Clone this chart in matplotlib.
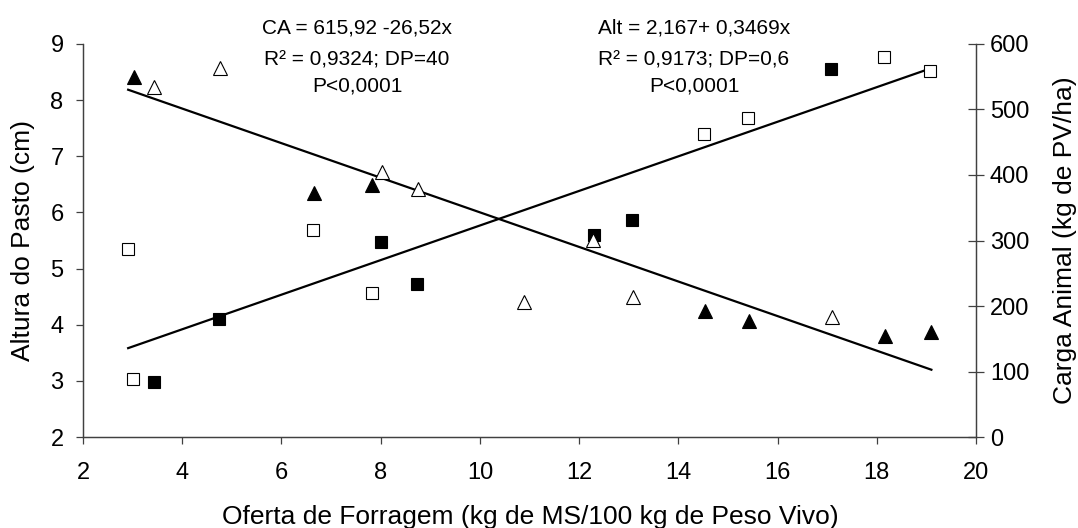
import numpy as np
import matplotlib.pyplot as plt

plt.rcParams['font.family'] = ['Liberation Sans', 'DejaVu Sans']

# Altura do pasto (cm) - quadrados, eixo esquerdo
alt_x_cheio = [3.43, 4.75, 8.0, 8.74, 12.29, 13.06, 17.07]
alt_y_cheio = [2.98, 4.10, 5.48, 4.72, 5.60, 5.86, 8.55]
alt_x_vazio = [2.91, 3.01, 6.64, 7.82, 14.52, 15.41, 18.15, 19.08]
alt_y_vazio = [5.35, 3.03, 5.68, 4.56, 7.39, 7.68, 8.76, 8.52]

# Carga animal (kg de PV/ha) - triangulos, eixo direito
ca_x_cheio = [3.03, 6.66, 7.83, 14.54, 15.43, 18.17, 19.10]
ca_y_cheio = [549, 372, 385, 193, 177, 154, 161]
ca_x_vazio = [3.44, 4.76, 8.02, 8.75, 10.88, 12.28, 13.08, 17.09]
ca_y_vazio = [534, 564, 405, 378, 206, 301, 213, 183]

# retas como aparecem no grafico
alt_reta = (2.687, 0.308)
ca_reta = (607.0, -26.4)
reta_x = [2.91, 19.1]

eq_ca = ["CA = 615,92 -26,52x", "R² = 0,9324; DP=40", "P<0,0001"]
eq_alt = ["Alt = 2,167+ 0,3469x", "R² = 0,9173; DP=0,6", "P<0,0001"]

fig = plt.figure(figsize=(10.78, 5.28), dpi=100)
ax = fig.add_axes([0.077, 0.1723, 0.8284, 0.7444])
ax2 = ax.twinx()

fs_tick = 17
fs_lab = 19
spine_c = '#404040'

xs = np.array(reta_x)
ax.plot(xs, alt_reta[0] + alt_reta[1] * xs, color='black', lw=1.6, zorder=2)
ax2.plot(xs, ca_reta[0] + ca_reta[1] * xs, color='black', lw=1.6, zorder=2)

ax.plot(alt_x_cheio, alt_y_cheio, 's', ms=9, mfc='black', mec='black', mew=0.8, ls='none', zorder=3)
ax.plot(alt_x_vazio, alt_y_vazio, 's', ms=9, mfc='white', mec='black', mew=0.8, ls='none', zorder=3)
ax2.plot(ca_x_cheio, ca_y_cheio, '^', ms=9.5, mfc='black', mec='black', mew=0.8, ls='none', zorder=3)
ax2.plot(ca_x_vazio, ca_y_vazio, '^', ms=9.5, mfc='white', mec='black', mew=0.8, ls='none', zorder=3)

ax.set_xlim(2, 20)
ax.set_ylim(2, 9)
ax2.set_ylim(0, 600)
ax.set_xticks(range(2, 21, 2))
ax.set_yticks(range(2, 10))
ax2.set_yticks(range(0, 601, 100))

for a in (ax, ax2):
    a.spines['top'].set_visible(False)
    for s in a.spines.values():
        s.set_color(spine_c)
        s.set_linewidth(0.9)
ax.tick_params(axis='x', direction='out', length=5, width=0.9, color=spine_c,
               labelsize=fs_tick, pad=13)
ax.tick_params(axis='y', direction='out', length=5, width=0.9, color=spine_c,
               labelsize=fs_tick, pad=9)
ax2.tick_params(axis='y', direction='inout', length=12, width=0.9, color=spine_c,
                labelsize=fs_tick, pad=4)

ax.set_xlabel("Oferta de Forragem (kg de MS/100 kg de Peso Vivo)", fontsize=fs_lab)
ax.set_ylabel("Altura do Pasto (cm)", fontsize=fs_lab)
ax2.set_ylabel("Carga Animal (kg de PV/ha)", fontsize=fs_lab)
ax.xaxis.set_label_coords(0.5006, -0.2036)
ax.yaxis.set_label_coords(-0.0672, 0.5)
ax2.yaxis.set_label_coords(1.0997, 0.5)
ax.xaxis.label.set_va('center')
ax.yaxis.label.set_va('center')
ax2.yaxis.label.set_va('center')

# equacoes, uma linha por vez (linhas de base em pixels a partir do topo)
baselines = [34, 65, 91]
for cx, linhas in ((357, eq_ca), (694, eq_alt)):
    for by, txt in zip(baselines, linhas):
        fig.text(cx / 1078, 1 - by / 528, txt, ha='center', va='baseline', fontsize=15)

fig.savefig('out.png', dpi=100)
